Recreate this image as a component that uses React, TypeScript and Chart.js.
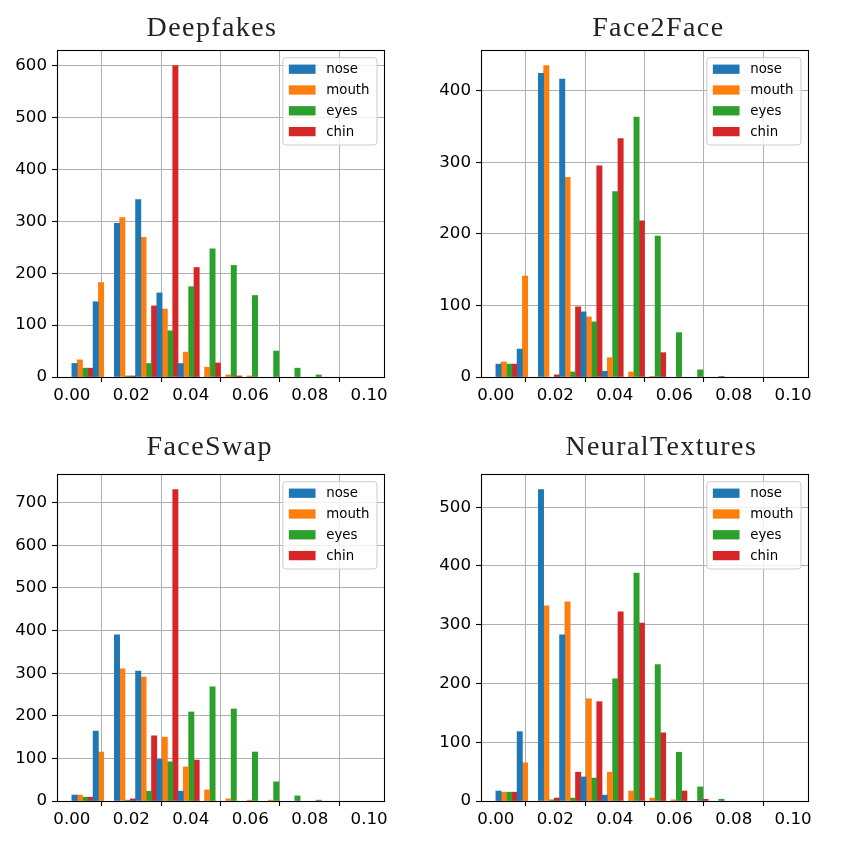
import React, { useEffect, useRef } from "react";
import { Chart, registerables } from "chart.js";

Chart.register(...registerables);

// ---- data ----
const SERIES_LABELS = ["nose", "mouth", "eyes", "chin"];
const SERIES_COLORS = ["#1f77b4", "#ff7f0e", "#2ca02c", "#d62728"];
const BIN_MIN = 0;
const BIN_MAX = 0.1;
const BIN_COUNT = 14;
const X_TICKS = [0, 0.02, 0.04, 0.06, 0.08, 0.1];
const Y_STEP = 100;

const deepfakesNose = [26, 145, 296, 342, 162, 26, 0, 0, 0, 0, 0, 0, 0, 0];
const deepfakesMouth = [33, 182, 307, 269, 131, 48, 19, 4, 2, 0, 0, 0, 0, 0];
const deepfakesEyes = [17, 0, 2, 26, 89, 174, 247, 215, 157, 50, 17, 4, 0, 0];
const deepfakesChin = [17, 0, 2, 137, 600, 211, 27, 2, 0, 0, 0, 0, 0, 0];

const face2faceNose = [18, 39, 424, 416, 91, 8, 0, 0, 0, 0, 0, 0, 0, 0];
const face2faceMouth = [21, 141, 435, 279, 84, 27, 7, 1, 0, 0, 0, 0, 0, 0];
const face2faceEyes = [18, 0, 0, 7, 77, 259, 363, 197, 62, 10, 1, 0, 0, 0];
const face2faceChin = [18, 0, 3, 98, 295, 333, 218, 34, 0, 0, 0, 0, 0, 0];

const faceswapNose = [14, 164, 390, 305, 98, 23, 0, 0, 0, 0, 0, 0, 0, 0];
const faceswapMouth = [14, 115, 310, 291, 150, 80, 26, 5, 2, 2, 0, 0, 0, 0];
const faceswapEyes = [9, 0, 2, 23, 92, 209, 268, 216, 115, 45, 12, 2, 0, 0];
const faceswapChin = [9, 0, 5, 153, 731, 96, 0, 0, 0, 0, 0, 0, 0, 0];

const neuralNose = [17, 118, 530, 283, 41, 10, 0, 0, 0, 0, 0, 0, 0, 0];
const neuralMouth = [15, 65, 332, 339, 174, 49, 17, 5, 2, 0, 0, 0, 0, 0];
const neuralEyes = [15, 0, 2, 5, 39, 208, 388, 232, 83, 24, 3, 0, 0, 0];
const neuralChin = [15, 0, 5, 49, 169, 322, 303, 116, 17, 3, 0, 0, 0, 0];

const PANELS = [
  { title: "Deepfakes", series: [deepfakesNose, deepfakesMouth, deepfakesEyes, deepfakesChin], left: 0, top: 0, titleX: 212, titleY: 35.5 },
  { title: "Face2Face", series: [face2faceNose, face2faceMouth, face2faceEyes, face2faceChin], left: 424, top: 0, titleX: 234.3, titleY: 36 },
  { title: "FaceSwap", series: [faceswapNose, faceswapMouth, faceswapEyes, faceswapChin], left: 0, top: 424, titleX: 209.7, titleY: 30.5 },
  { title: "NeuralTextures", series: [neuralNose, neuralMouth, neuralEyes, neuralChin], left: 424, top: 424, titleX: 237.3, titleY: 31 },
];

const TICK_FONT = { family: '"DejaVu Sans", sans-serif', size: 16.67 };

function makeDecorPlugin(title: string, titleX: number, titleY: number) {
  return {
    id: "decor",
    afterDraw(chart: any) {
      const ctx = chart.ctx;
      const ca = chart.chartArea;
      ctx.save();
      // frame
      ctx.strokeStyle = "#000";
      ctx.lineWidth = 1.1;
      ctx.strokeRect(Math.round(ca.left) + 0.5, Math.round(ca.top) + 0.5, Math.round(ca.right - ca.left), Math.round(ca.bottom - ca.top));

      // legend
      const fs = 13.33;
      ctx.font = `${fs}px "DejaVu Sans", sans-serif`;
      const labels = chart.data.datasets.map((d: any) => d.label);
      const colors = chart.data.datasets.map((d: any) => d.backgroundColor);
      const maxW = Math.max(...labels.map((l: string) => ctx.measureText(l).width));
      const handleW = 26.7;
      const handleH = 9.3;
      const gap = 10.7;
      const padL = 6;
      const padR = 7.5;
      const boxW = padL + handleW + gap + maxW + padR;
      const boxH = 87.3;
      const right = ca.right - 7;
      const top = ca.top + 7.7;
      const left = right - boxW;
      ctx.beginPath();
      (ctx as any).roundRect(left, top, boxW, boxH, 3);
      ctx.fillStyle = "rgba(255,255,255,0.8)";
      ctx.fill();
      ctx.strokeStyle = "#cccccc";
      ctx.lineWidth = 1;
      ctx.stroke();
      ctx.textBaseline = "middle";
      ctx.textAlign = "left";
      labels.forEach((l: string, i: number) => {
        const cy = top + 11.5 + i * 20.8;
        ctx.fillStyle = colors[i];
        ctx.fillRect(left + padL, cy - handleH / 2, handleW, handleH);
        ctx.fillStyle = "#000";
        ctx.fillText(l, left + padL + handleW + gap, cy + 0.5);
      });

      // title
      ctx.font = '28px "Liberation Serif", serif';
      (ctx as any).letterSpacing = "1.4px";
      ctx.textAlign = "center";
      ctx.textBaseline = "alphabetic";
      ctx.fillStyle = "#222";
      ctx.fillText(title, titleX, titleY);
      ctx.restore();
    },
  };
}

function Panel({ p }: { p: (typeof PANELS)[number] }) {
  const ref = useRef<HTMLCanvasElement>(null);
  useEffect(() => {
    const binW = (BIN_MAX - BIN_MIN) / BIN_COUNT;
    const centers = Array.from({ length: BIN_COUNT }, (_, i) => BIN_MIN + (i + 0.5) * binW);
    const yMax = Math.max(...p.series.flat()) * 1.05;
    const xPad = (BIN_MAX - BIN_MIN) * 0.05;
    const chart = new Chart(ref.current as HTMLCanvasElement, {
      type: "bar",
      data: {
        datasets: p.series.map((vals, i) => ({
          label: SERIES_LABELS[i],
          // empty bins are drawn as nothing
          data: vals.map((v, k) => ({ x: centers[k], y: v === 0 ? null : v })),
          backgroundColor: SERIES_COLORS[i],
          borderWidth: 0,
          categoryPercentage: 1,
          barPercentage: 1,
        })),
      },
      options: {
        animation: false,
        responsive: false,
        layout: { padding: { left: 0, top: 50, right: 40, bottom: 7 } },
        plugins: { legend: { display: false }, tooltip: { enabled: false }, title: { display: false } },
        scales: {
          x: {
            type: "linear",
            min: BIN_MIN - xPad,
            max: BIN_MAX + xPad,
            offset: false,
            z: 1,
            afterFit: (s: any) => {
              s.height = 40;
            },
            afterBuildTicks: (s: any) => {
              s.ticks = X_TICKS.map((v) => ({ value: v }));
            },
            ticks: {
              callback: (v: any) => Number(v).toFixed(2),
              font: TICK_FONT,
              color: "#000",
              padding: 4,
              maxRotation: 0,
              autoSkip: false,
            },
            grid: { color: "#b0b0b0", lineWidth: 1, tickColor: "#000", tickLength: 5, tickWidth: 1.1, drawTicks: true },
            border: { display: false },
          },
          y: {
            type: "linear",
            min: 0,
            max: yMax,
            z: 1,
            afterFit: (s: any) => {
              s.width = 57;
            },
            ticks: {
              stepSize: Y_STEP,
              includeBounds: false,
              font: TICK_FONT,
              color: "#000",
              padding: 5,
            },
            grid: { color: "#b0b0b0", lineWidth: 1, tickColor: "#000", tickLength: 5, tickWidth: 1.1, drawTicks: true },
            border: { display: false },
          },
        },
      } as any,
      plugins: [makeDecorPlugin(p.title, p.titleX, p.titleY)],
    });
    return () => chart.destroy();
  }, []);
  return (
    <canvas
      ref={ref}
      width={424}
      height={424}
      style={{ position: "absolute", left: p.left, top: p.top, width: 424, height: 424 }}
    />
  );
}

export default function App() {
  return (
    <div style={{ position: "fixed", left: 0, top: 0, width: 848, height: 848, background: "#fff" }}>
      {PANELS.map((p) => (
        <Panel key={p.title} p={p} />
      ))}
    </div>
  );
}
